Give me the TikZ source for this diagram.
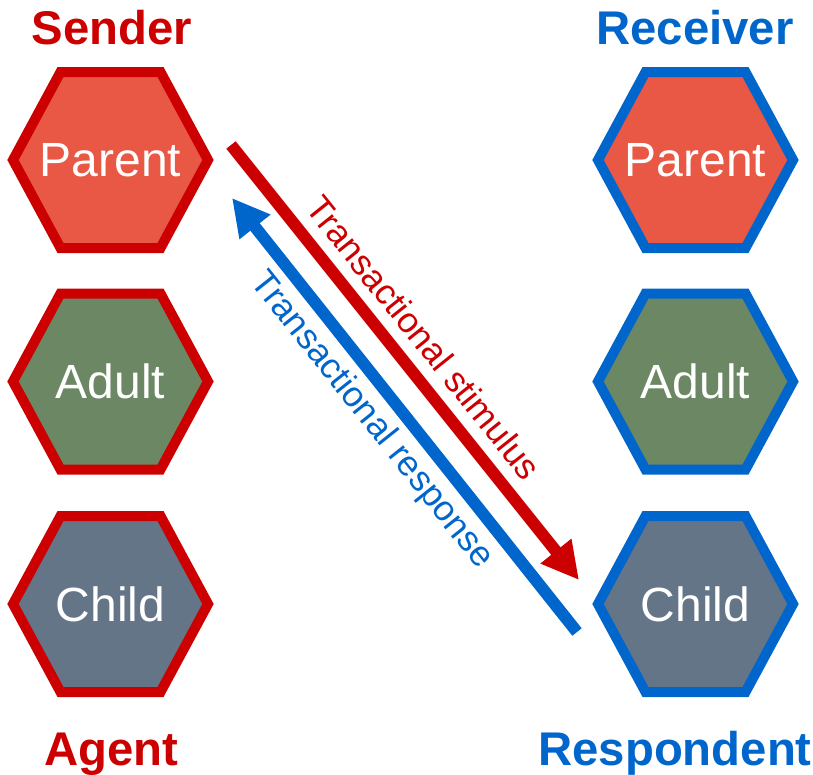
\documentclass[tikz,border=0pt]{standalone}
\usepackage{fontspec}
\setmainfont{Liberation Sans}
\usetikzlibrary{arrows.meta}

\definecolor{sendred}{HTML}{CC0000}
\definecolor{recvblue}{HTML}{0066CC}
\definecolor{parentfill}{HTML}{E85844}
\definecolor{adultfill}{HTML}{6B8764}
\definecolor{childfill}{HTML}{647587}

% ego-state hexagon: name, x, y, fill, outline, label
\newcommand{\egostate}[6]{%
  \begin{scope}[shift={(#2,#3)}]
    \draw[hexbox, fill=#4, draw=#5]
      (-97.5,0) -- (-50,-88) -- (50,-88) -- (97.5,0) -- (50,88) -- (-50,88) -- cycle;
  \end{scope}
  \node[statelabel] (#1) at (#2,#3) {#6};
}

\begin{document}
\begin{tikzpicture}[x=1pt, y=-1pt,
  hexbox/.style={line width=10pt, line join=miter},
  statelabel/.style={text=white, inner sep=0pt, font=\fontsize{48}{57}\selectfont},
  rolelabel/.style={anchor=base, inner sep=0pt, font=\bfseries\fontsize{47.3}{56}\selectfont},
  flowlabel/.style={anchor=base, inner sep=0pt, font=\fontsize{35.5}{42}\selectfont},
  flow/.style={line width=12pt, line cap=butt, -{Triangle[length=37pt, width=37pt]}}]

  \useasboundingbox (0,0) rectangle (813,774);

  % sender column
  \egostate{sp}{110.5}{160}{parentfill}{sendred}{Parent}
  \egostate{sa}{110.5}{381.5}{adultfill}{sendred}{Adult}
  \egostate{sc}{110.5}{604}{childfill}{sendred}{Child}

  % receiver column
  \egostate{rp}{695.5}{160}{parentfill}{recvblue}{Parent}
  \egostate{ra}{695.5}{381.5}{adultfill}{recvblue}{Adult}
  \egostate{rc}{695.5}{604}{childfill}{recvblue}{Child}

  % role headings
  \node[rolelabel, text=sendred] (sender) at (112,44) {Sender};
  \node[rolelabel, text=recvblue] (receiver) at (695,44) {Receiver};
  \node[rolelabel, text=sendred] (agent) at (111,765) {Agent};
  \node[rolelabel, text=recvblue] (respondent) at (675,765) {Respondent};

  % transaction arrows
  \coordinate (stimTail) at (231,145);
  \coordinate (stimTip) at (579,580);
  \coordinate (respTail) at (577,632);
  \coordinate (respTip) at (232,198);

  \draw[flow, sendred] (stimTail) -- (stimTip);
  \draw[flow, recvblue] (respTail) -- (respTip);

  \node[flowlabel, text=sendred, rotate=-51.3] (stimtext) at (414,345.5) {Transactional stimulus};
  \node[flowlabel, text=recvblue, rotate=-51.5] (resptext) at (364,426) {Transactional response};
\end{tikzpicture}
\end{document}
